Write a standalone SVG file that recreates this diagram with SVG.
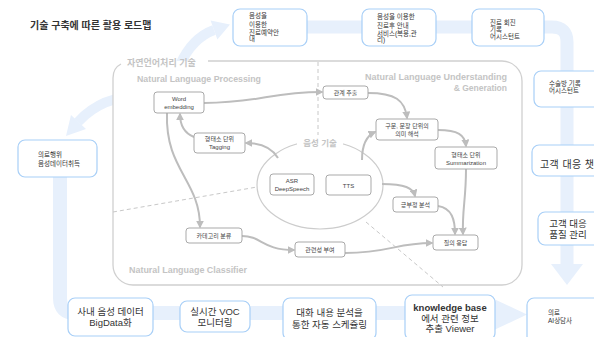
<svg xmlns="http://www.w3.org/2000/svg" width="594" height="337" viewBox="0 0 594 337">
<defs>
<style>
.t{font-family:"Liberation Sans","Noto Sans CJK KR",sans-serif;fill:#333}
.s{font-size:6.5px}
.n{font-size:6px;fill:#444;text-anchor:middle}
.m{font-size:9.5px;text-anchor:middle}
.g{font-family:"Liberation Sans","Noto Sans CJK KR",sans-serif;fill:#c4c4c4;font-weight:bold}
.bx{fill:#fff;stroke:#a8cff7;stroke-width:1.2}
.nd{fill:#fff;stroke:#a9a9a9;stroke-width:1}
.band{fill:none;stroke:#e7f0fc}
.bf{fill:#e7f0fc}
.cn{fill:none;stroke:#bdbdbd;stroke-width:2}
.dash{fill:none;stroke:#c8c8c8;stroke-width:1;stroke-dasharray:4 3}
</style>
<marker id="ah" viewBox="0 0 10 10" refX="8" refY="5" markerWidth="4" markerHeight="4" orient="auto" markerUnits="strokeWidth">
<path d="M0,0 L10,5 L0,10 Z" fill="#bdbdbd"/>
</marker>
</defs>
<rect width="594" height="337" fill="#fff"/>

<g id="background-flow">
<path class="band" stroke-width="13" d="M300,27 H370 M430,27 H480 M540,27 H552 Q567,27 567,42 V266"/>
<polygon class="bf" points="551,264 583,264 567,285"/>
<path class="band" stroke-width="14" d="M60,170 V298 Q60,313 75,313 H497"/>
<polygon class="bf" points="494,299 494,330 527,314.5"/>
<path class="band" stroke-width="10" d="M180,65 Q192,38 214,30"/>
<polygon class="bf" points="230,24.5 217.4,39.4 210.6,20.6"/>
<path class="band" stroke-width="10" d="M155,96 Q105,92 78,122"/>
<polygon class="bf" points="66,136 86,129 71,115"/>
</g>

<text class="t" x="30" y="28.5" font-size="10" font-weight="bold">기술 구축에 따른 활용 로드맵</text>

<g id="nlp-area">
<path fill="#fff" d="M133,61 H502 A20,20 0 0 1 522,81 V265 A20,20 0 0 1 502,285 H133 A20,20 0 0 1 113,265 V81 A20,20 0 0 1 133,61 Z"/>
<path fill="none" stroke="#d0d0d0" stroke-width="1.3" d="M208,61 H502 A20,20 0 0 1 522,81 V265 A20,20 0 0 1 502,285 H133 A20,20 0 0 1 113,265 V78 Q113,68 121,64"/>
<text class="g" x="127" y="66" font-size="9" font-weight="normal" fill="#bdbdbd">자연언어처리 기술</text>
<text class="g" x="137" y="82" font-size="8.5" textLength="124" lengthAdjust="spacingAndGlyphs">Natural Language Processing</text>
<text class="g" x="507" y="79.5" font-size="8.5" text-anchor="end" textLength="142" lengthAdjust="spacingAndGlyphs">Natural Language Understanding</text>
<text class="g" x="507" y="90.5" font-size="8.5" text-anchor="end">&amp; Generation</text>
<text class="g" x="129" y="273" font-size="8.5" textLength="118" lengthAdjust="spacingAndGlyphs">Natural Language Classifier</text>
<path class="dash" d="M318,62 V135"/>
<path class="dash" d="M113,212 L257,187"/>
<path class="dash" d="M366,222 L443,287"/>
</g>

<g id="speech-tech">
<ellipse cx="320" cy="185" rx="63" ry="44" fill="none" stroke="#cccccc" stroke-width="1.2"/>
<rect x="297" y="135" width="46" height="15" fill="#fff"/>
<text class="g" x="320" y="146" font-size="8.5" font-weight="normal" fill="#b8b8b8" text-anchor="middle">음성 기술</text>
</g>

<g id="connectors">
<path class="cn" marker-end="url(#ah)" d="M204,103 C260,103 270,92 322,92"/>
<path class="cn" marker-end="url(#ah)" d="M368,93 C395,93 405,100 407,118"/>
<path class="cn" marker-end="url(#ah)" d="M438,130 C458,130 465,135 466,146"/>
<path class="cn" marker-end="url(#ah)" d="M466,169 C466,200 462,210 463,234"/>
<path class="cn" marker-end="url(#ah)" d="M278,158 C272,148 262,143 246,143"/>
<path class="cn" marker-end="url(#ah)" d="M194,137 C184,133 180,125 180,114"/>
<path class="cn" marker-end="url(#ah)" d="M167,113 C165,170 200,180 200,227"/>
<path class="cn" marker-end="url(#ah)" d="M362,160 C362,145 366,136 375,132"/>
<path class="cn" marker-end="url(#ah)" d="M382,184 C405,184 413,188 415,196"/>
<path class="cn" marker-end="url(#ah)" d="M438,206 C452,208 455,220 455,234"/>
<path class="cn" marker-end="url(#ah)" d="M242,236 C262,236 262,250 294,250"/>
<path class="cn" marker-end="url(#ah)" d="M345,253 C390,253 395,243 432,243"/>
</g>

<g id="n-word"><rect class="nd" x="154" y="92" width="50" height="21" rx="3"/><text class="t n" x="179" y="101">Word</text><text class="t n" x="179" y="109">embedding</text></g>
<g id="n-tagging"><rect class="nd" x="194" y="133" width="51" height="20" rx="3"/><text class="t n" x="219.5" y="141">형태소 단위</text><text class="t n" x="219.5" y="149">Tagging</text></g>
<g id="n-relation"><rect class="nd" x="323" y="86" width="45" height="13" rx="3"/><text class="t n" x="345.5" y="95">관계 추출</text></g>
<g id="n-semantic"><rect class="nd" x="376" y="119" width="62" height="21" rx="3"/><text class="t n" x="407" y="128">구문, 문장 단위의</text><text class="t n" x="407" y="136">의미 해석</text></g>
<g id="n-summary"><rect class="nd" x="435" y="147" width="62" height="22" rx="3"/><text class="t n" x="466" y="157">형태소 단위</text><text class="t n" x="466" y="165">Summarization</text></g>
<g id="n-asr"><rect class="nd" x="270" y="174" width="44" height="21" rx="3"/><text class="t n" x="292" y="183" font-size="6.3">ASR</text><text class="t n" x="292" y="191" font-size="6.3">DeepSpeech</text></g>
<g id="n-tts"><rect class="nd" x="326" y="175" width="45" height="20" rx="3"/><text class="t n" x="348.5" y="187.5" font-size="6.3">TTS</text></g>
<g id="n-sentiment"><rect class="nd" x="393" y="197" width="45" height="15" rx="3"/><text class="t n" x="415.5" y="207">긍부정 분석</text></g>
<g id="n-qa"><rect class="nd" x="433" y="235" width="45" height="15" rx="3"/><text class="t n" x="455.5" y="245">질의 응답</text></g>
<g id="n-category"><rect class="nd" x="186" y="228" width="56" height="15" rx="3"/><text class="t n" x="214" y="238">카테고리 분류</text></g>
<g id="n-relevance"><rect class="nd" x="295" y="242" width="50" height="15" rx="3"/><text class="t n" x="320" y="252">관련성 부여</text></g>

<g id="b-reservation"><rect class="bx" x="233" y="9" width="74" height="37" rx="7"/><text class="t s" x="249" y="18">음성을</text><text class="t s" x="249" y="26.5">이용한</text><text class="t s" x="249" y="34.5">진료예약안</text><text class="t s" x="249" y="41">내</text></g>
<g id="b-aftercare"><rect class="bx" x="362" y="9" width="74" height="37" rx="7"/><text class="t s" x="377" y="19">음성을 이용한</text><text class="t s" x="377" y="27.5">진료후 안내</text><text class="t s" x="377" y="35.5">서비스(복용,관</text><text class="t s" x="377" y="42">리)</text></g>
<g id="b-rounds"><rect class="bx" x="472" y="9" width="72" height="37" rx="7"/><text class="t s" x="490" y="25">진료 회진</text><text class="t s" x="490" y="31.5">기록</text><text class="t s" x="490" y="38.5">어시스턴트</text></g>
<g id="b-surgery"><rect class="bx" x="534" y="71" width="70" height="36" rx="7"/><text class="t s" x="549" y="85.5">수술방 기록</text><text class="t s" x="549" y="92.5">어시스턴트</text></g>
<g id="b-chatbot"><rect class="bx" x="532" y="145" width="72" height="31" rx="7"/><text class="t" x="540" y="168" font-size="10" letter-spacing="0.4">고객 대응 챗봇</text></g>
<g id="b-quality"><rect class="bx" x="538" y="212" width="66" height="33" rx="7"/><text class="t m" x="568" y="226.5">고객 대응</text><text class="t m" x="568" y="238">품질 관리</text></g>
<g id="b-aiagent"><rect class="bx" x="527" y="298" width="77" height="45" rx="7"/><text class="t s" x="548" y="315">의료</text><text class="t s" x="548" y="323">AI상담사</text></g>
<g id="b-acquire"><rect class="bx" x="18" y="140" width="79" height="37" rx="7"/><text class="t s" x="38" y="157">의료행위</text><text class="t s" x="38" y="165.5">음성데이터취득</text></g>
<g id="b-bigdata"><rect class="bx" x="68" y="298" width="85" height="38" rx="7"/><text class="t m" x="110.5" y="315">사내 음성 데이터</text><text class="t m" x="110.5" y="326">BigData화</text></g>
<g id="b-voc"><rect class="bx" x="180" y="301" width="70" height="31" rx="7"/><text class="t m" x="215" y="315">실시간 VOC</text><text class="t m" x="215" y="326">모니터링</text></g>
<g id="b-schedule"><rect class="bx" x="283" y="298" width="93" height="42" rx="7"/><text class="t m" x="329.5" y="316">대화 내용 분석을</text><text class="t m" x="329.5" y="328">통한 자동 스케쥴링</text></g>
<g id="b-knowledge"><rect class="bx" x="405" y="295" width="90" height="45" rx="7"/><text class="t m" x="450" y="311" font-weight="bold" font-size="9">knowledge base</text><text class="t m" x="450" y="322">에서 관련 정보</text><text class="t m" x="450" y="332">추출 Viewer</text></g>
</svg>
